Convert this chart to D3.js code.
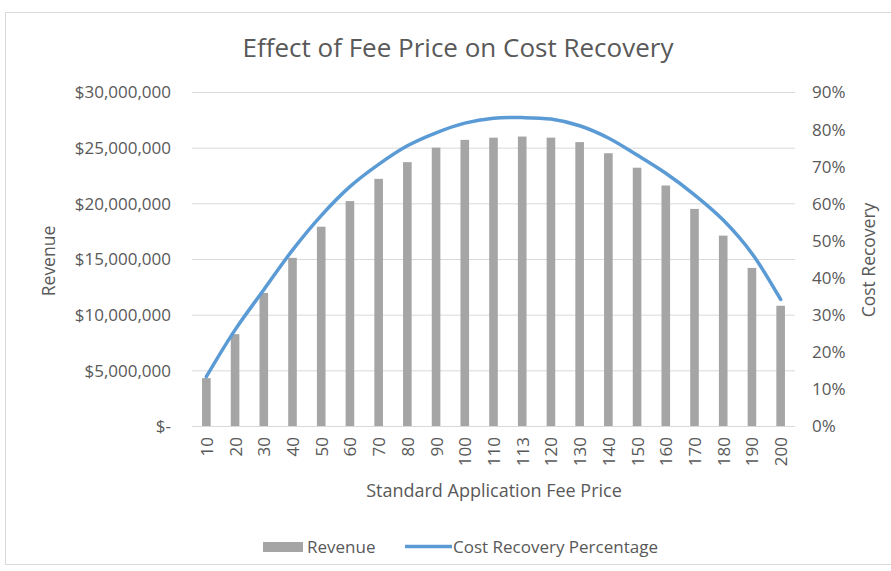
<!DOCTYPE html>
<html><head><meta charset="utf-8">
<script src="https://cdn.jsdelivr.net/npm/d3@7"></script>
<style>body{margin:0;background:#fff}svg{display:block}text{font-family:"Open Sans",sans-serif;fill:#595959}</style>
</head><body><svg id="c" width="891" height="571"></svg>
<script>
const categories = ["10","20","30","40","50","60","70","80","90","100","110","113","120","130","140","150","160","170","180","190","200"];
const revenue = [4300000,8250000,11950000,15100000,17900000,20200000,22200000,23700000,25000000,25700000,25900000,26000000,25900000,25500000,24500000,23200000,21600000,19500000,17100000,14200000,10800000];
const costRecovery = [0.133,0.259,0.367,0.474,0.567,0.645,0.705,0.755,0.79,0.816,0.829,0.831,0.827,0.809,0.776,0.730,0.681,0.623,0.555,0.465,0.341];
const revenueTicks = [0,5000000,10000000,15000000,20000000,25000000,30000000];
const pctTicks = [0,0.1,0.2,0.3,0.4,0.5,0.6,0.7,0.8,0.9];

const svg = d3.select("#c");
svg.append("rect").attr("x",5.5).attr("y",12.5).attr("width",900).attr("height",552)
  .attr("fill","#fff").attr("stroke","#d9d9d9");

const L=192, R=795, T=92, B=426;
const x = d3.scaleBand().domain(categories).range([L,R]).paddingInner(0.7).paddingOuter(0.35);
const xc = d3.scalePoint().domain(categories).range([L,R]).padding(0.5);
const yL = d3.scaleLinear().domain([0,30000000]).range([B,T]);
const yR = d3.scaleLinear().domain([0,0.9]).range([B,T]);

// gridlines
svg.append("g").selectAll("line").data(revenueTicks).join("line")
  .attr("x1",L).attr("x2",R).attr("y1",d=>yL(d)+0.5).attr("y2",d=>yL(d)+0.5)
  .attr("stroke","#d9d9d9").attr("stroke-width",1);

// left axis
const fmt = d => d===0 ? "$-" : "$"+d3.format(",")(d);
const gl = svg.append("g").attr("transform",`translate(${L-21},0)`)
  .call(d3.axisLeft(yL).tickValues(revenueTicks).tickFormat(fmt).tickSize(0).tickPadding(0));
gl.select(".domain").remove();
gl.selectAll("text").style("font-size","17px").attr("fill","#595959").attr("dy","0.35em");

// right axis
const gr = svg.append("g").attr("transform",`translate(${R+17},0)`)
  .call(d3.axisRight(yR).tickValues(pctTicks).tickFormat(d3.format(".0%")).tickSize(0).tickPadding(0));
gr.select(".domain").remove();
gr.selectAll("text").style("font-size","17px").attr("fill","#595959").attr("dy","0.35em");

// x axis
const gx = svg.append("g").attr("transform",`translate(0,${B})`)
  .call(d3.axisBottom(xc).tickSize(0).tickPadding(0));
gx.select(".domain").remove();
gx.selectAll("text").style("font-size","17px").attr("fill","#595959")
  .attr("transform","rotate(-90)").attr("text-anchor","end").attr("x",-11).attr("y",0).attr("dy","0.35em");

// bars
svg.append("g").selectAll("rect").data(revenue).join("rect")
  .attr("x",(d,i)=>x(categories[i])).attr("width",x.bandwidth())
  .attr("y",d=>yL(d)).attr("height",d=>B-yL(d)).attr("fill","#a5a5a5");

// line
const line = d3.line().x((d,i)=>xc(categories[i])).y(d=>yR(d)).curve(d3.curveCatmullRom.alpha(0.5));
svg.append("path").datum(costRecovery).attr("d",line).attr("fill","none")
  .attr("stroke","#5b9bd5").attr("stroke-width",3.5).attr("stroke-linecap","round");

// titles
svg.append("text").attr("x",458).attr("y",57).attr("text-anchor","middle").style("font-size","26px").text("Effect of Fee Price on Cost Recovery");
svg.append("text").attr("transform","translate(55,261) rotate(-90)").attr("text-anchor","middle").style("font-size","17.5px").text("Revenue");
svg.append("text").attr("transform","translate(875,260) rotate(-90)").attr("text-anchor","middle").style("font-size","17.5px").text("Cost Recovery");
svg.append("text").attr("x",494).attr("y",497).attr("text-anchor","middle").style("font-size","18px").text("Standard Application Fee Price");

// legend
const lg = svg.append("g");
lg.append("rect").attr("x",263).attr("y",542).attr("width",40).attr("height",10).attr("fill","#a5a5a5");
lg.append("text").attr("x",307).attr("y",547).attr("dy","0.35em").style("font-size","17px").text("Revenue");
lg.append("line").attr("x1",405).attr("x2",452).attr("y1",546.5).attr("y2",546.5).attr("stroke","#5b9bd5").attr("stroke-width",3.5);
lg.append("text").attr("x",453).attr("y",547).attr("dy","0.35em").style("font-size","17px").text("Cost Recovery Percentage");
</script></body></html>
